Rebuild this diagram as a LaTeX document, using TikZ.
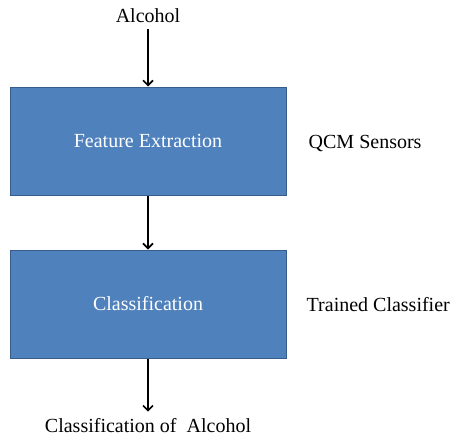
\documentclass[tikz,border=0pt]{standalone}
\usepackage{fontspec}
\setmainfont{Liberation Serif}
\usetikzlibrary{positioning,arrows.meta}

\definecolor{boxblue}{HTML}{4F81BD}
\definecolor{boxedge}{HTML}{385D8A}

\tikzset{
  stage/.style={draw=boxedge, line width=1pt, fill=boxblue, text=white,
    minimum width=276pt, minimum height=108pt, font=\fontsize{20}{24}\selectfont},
  note/.style={font=\fontsize{20}{24}\selectfont, inner sep=2pt},
  flow/.style={line width=1.6pt, -{Straight Barb[length=5pt, width=10pt, line width=1.6pt]}}
}

\begin{document}
\begin{tikzpicture}[x=1pt, y=1pt, node distance=54pt]
  \useasboundingbox (0,0) rectangle (450,-439);
  % the two stages
  \node (fe) [stage] at (148,-141) {Feature Extraction};
  \node (cl) [stage, below=of fe] {Classification};

  % input and output
  \node (in) [note] at (148,-16) {Alcohol};
  \node (out) [note] at (148,-426) {Classification of \ Alcohol};

  % side notes
  \node (qcm) [note, right=20pt of fe, yshift=-2pt] {QCM Sensors};
  \node (tc) [note, right=18pt of cl, yshift=-1pt] {Trained Classifier};

  \draw [flow, shorten <=4pt] (in) -- (fe);
  \draw [flow] (fe) -- (cl);
  \draw [flow, shorten >=5pt] (cl) -- (out);
\end{tikzpicture}
\end{document}
